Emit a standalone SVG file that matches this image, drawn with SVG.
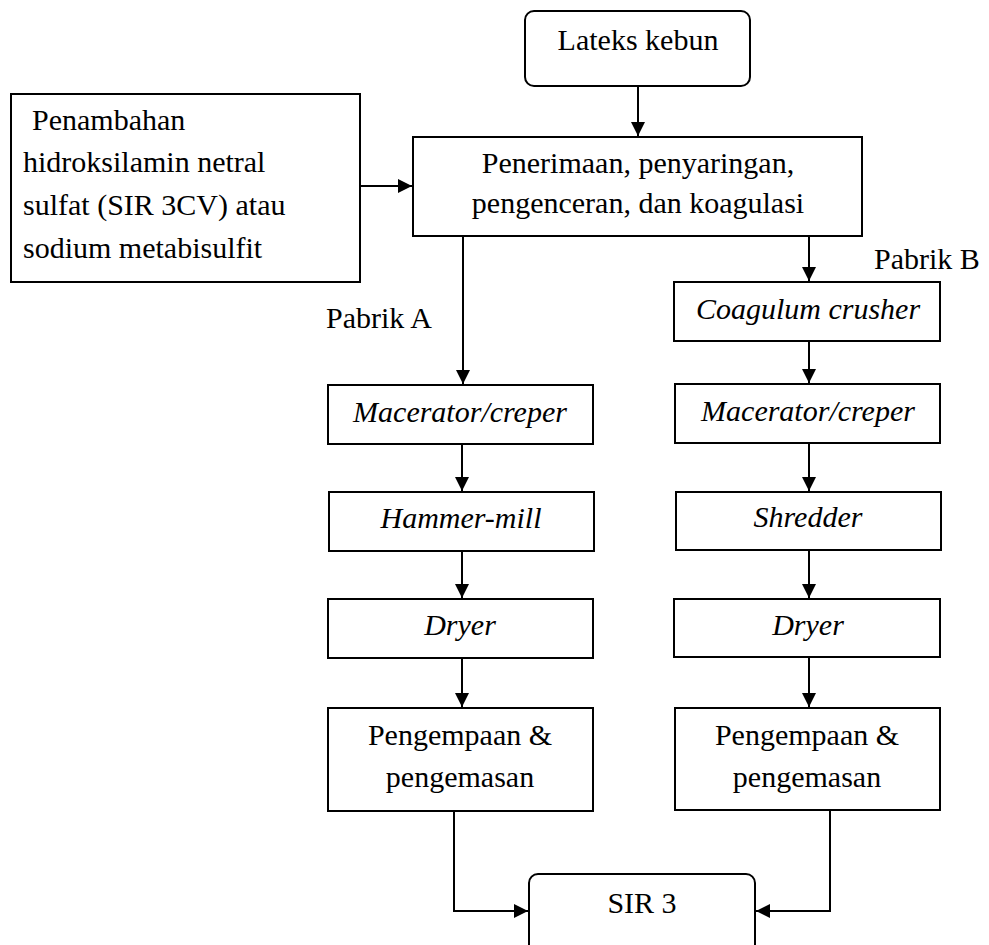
<svg xmlns="http://www.w3.org/2000/svg" width="989" height="945" viewBox="0 0 989 945">
<defs>
<style>
.box{fill:#fff;stroke:#000;stroke-width:2}
.ln{fill:none;stroke:#000;stroke-width:2}
</style>
<marker id="ah" markerUnits="userSpaceOnUse" markerWidth="16" markerHeight="16" refX="14" refY="7" orient="auto">
<path d="M0,0 L14,7 L0,14 Z" fill="#000"/>
</marker>
</defs>
<rect width="989" height="945" fill="#fff"/>
<g id="connectors">
<line class="ln" x1="638" y1="87" x2="638" y2="136" marker-end="url(#ah)"/>
<line class="ln" x1="361" y1="186" x2="412" y2="186" marker-end="url(#ah)"/>
<line class="ln" x1="463" y1="236" x2="463" y2="384" marker-end="url(#ah)"/>
<line class="ln" x1="809" y1="236" x2="809" y2="281" marker-end="url(#ah)"/>
<line class="ln" x1="462" y1="444" x2="462" y2="491" marker-end="url(#ah)"/>
<line class="ln" x1="462" y1="551" x2="462" y2="598" marker-end="url(#ah)"/>
<line class="ln" x1="462" y1="658" x2="462" y2="707" marker-end="url(#ah)"/>
<line class="ln" x1="809" y1="341" x2="809" y2="383" marker-end="url(#ah)"/>
<line class="ln" x1="809" y1="443" x2="809" y2="491" marker-end="url(#ah)"/>
<line class="ln" x1="809" y1="550" x2="809" y2="598" marker-end="url(#ah)"/>
<line class="ln" x1="809" y1="657" x2="809" y2="707" marker-end="url(#ah)"/>
<polyline class="ln" points="454,811 454,911 528,911" marker-end="url(#ah)"/>
<polyline class="ln" points="830,810 830,911 756,911" marker-end="url(#ah)"/>
</g>
<g id="nodes" font-family="Liberation Serif, serif" font-size="30" fill="#000">
<g id="lateks">
<rect class="box" x="525" y="11" width="225" height="75" rx="9"/>
<text x="638" y="50" text-anchor="middle">Lateks kebun</text>
</g>
<g id="penambahan">
<rect class="box" x="11" y="94" width="349" height="188"/>
<text x="32" y="130">Penambahan</text>
<text x="23" y="172">hidroksilamin netral</text>
<text x="23" y="215">sulfat (SIR 3CV) atau</text>
<text x="23" y="258">sodium metabisulfit</text>
</g>
<g id="penerimaan">
<rect class="box" x="413" y="137" width="449" height="99"/>
<text x="638" y="173" text-anchor="middle">Penerimaan, penyaringan,</text>
<text x="638" y="213" text-anchor="middle">pengenceran, dan koagulasi</text>
</g>
<g id="label-pabrik-a"><text x="326" y="328">Pabrik A</text></g>
<g id="label-pabrik-b"><text x="874" y="269">Pabrik B</text></g>
<g id="macerator-a">
<rect class="box" x="328" y="385" width="265" height="59"/>
<text x="460" y="422" text-anchor="middle" font-style="italic">Macerator/creper</text>
</g>
<g id="hammer-mill">
<rect class="box" x="329" y="492" width="265" height="59"/>
<text x="461" y="528" text-anchor="middle" font-style="italic">Hammer-mill</text>
</g>
<g id="dryer-a">
<rect class="box" x="328" y="599" width="265" height="59"/>
<text x="460" y="635" text-anchor="middle" font-style="italic">Dryer</text>
</g>
<g id="pengempaan-a">
<rect class="box" x="328" y="708" width="265" height="103"/>
<text x="460" y="745" text-anchor="middle">Pengempaan &amp;</text>
<text x="460" y="787" text-anchor="middle">pengemasan</text>
</g>
<g id="coagulum">
<rect class="box" x="674" y="282" width="266" height="59"/>
<text x="808" y="319" text-anchor="middle" font-style="italic">Coagulum crusher</text>
</g>
<g id="macerator-b">
<rect class="box" x="675" y="384" width="265" height="59"/>
<text x="808" y="421" text-anchor="middle" font-style="italic">Macerator/creper</text>
</g>
<g id="shredder">
<rect class="box" x="676" y="492" width="265" height="58"/>
<text x="808" y="527" text-anchor="middle" font-style="italic">Shredder</text>
</g>
<g id="dryer-b">
<rect class="box" x="674" y="599" width="266" height="58"/>
<text x="808" y="635" text-anchor="middle" font-style="italic">Dryer</text>
</g>
<g id="pengempaan-b">
<rect class="box" x="675" y="708" width="265" height="102"/>
<text x="807" y="745" text-anchor="middle">Pengempaan &amp;</text>
<text x="807" y="787" text-anchor="middle">pengemasan</text>
</g>
<g id="sir3">
<rect class="box" x="529" y="874" width="226" height="90" rx="9"/>
<text x="642" y="913" text-anchor="middle">SIR 3</text>
</g>
</g>
</svg>
